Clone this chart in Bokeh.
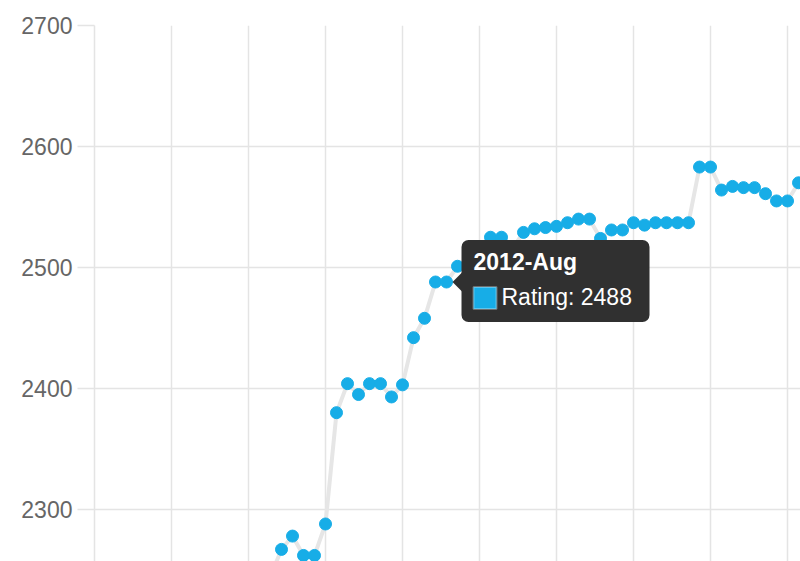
from bokeh.plotting import figure
from bokeh.models import FixedTicker, BoxAnnotation, PolyAnnotation, Label, Range1d, ColumnDataSource
from bokeh.embed import file_html
from bokeh.resources import INLINE

# ---- data ----
months = ["2011-Apr", "2011-May", "2011-Jun", "2011-Jul", "2011-Aug", "2011-Sep", "2011-Oct",
          "2011-Nov", "2011-Dec", "2012-Jan", "2012-Feb", "2012-Mar", "2012-Apr", "2012-May",
          "2012-Jun", "2012-Jul", "2012-Aug", "2012-Sep", "2012-Oct", "2012-Nov", "2012-Dec",
          "2013-Jan", "2013-Feb", "2013-Mar", "2013-Apr", "2013-May", "2013-Jun", "2013-Jul",
          "2013-Aug", "2013-Sep", "2013-Oct", "2013-Nov", "2013-Dec", "2014-Jan", "2014-Feb",
          "2014-Mar", "2014-Apr", "2014-May", "2014-Jun", "2014-Jul", "2014-Aug", "2014-Sep",
          "2014-Oct", "2014-Nov", "2014-Dec", "2015-Jan", "2015-Feb", "2015-Mar", "2015-Apr"]
ratings = [2245, 2267, 2278, 2262, 2262, 2288, 2380,
           2404, 2395, 2404, 2404, 2393, 2403, 2442,
           2458, 2488, 2488, 2501, 2508, 2512, 2525,
           2525, 2516, 2529, 2532, 2533, 2534, 2537,
           2540, 2540, 2524, 2531, 2531, 2537, 2535,
           2537, 2537, 2537, 2537, 2583, 2583, 2564,
           2567, 2566, 2566, 2561, 2555, 2555, 2570]
y_ticks = [2300, 2400, 2500, 2600, 2700]
x_grid_ticks = [-16, -9, -2, 5, 12, 19, 26, 33, 40, 47]
series_name = "Rating"
focus_month = "2012-Aug"

idx = list(range(len(months)))
src = ColumnDataSource(dict(x=idx, y=ratings, m=months))

X0, X1 = -16.0, 48.18
Y0, Y1 = 2257.0, 2700.0
W, H = 800, 561
ML, MT = 94, 25
FW, FH = W - ML, H - MT

BLUE = "#17ade7"
GRID = "#e4e4e4"

p = figure(width=W, height=H, output_backend="svg", toolbar_location=None,
           x_range=Range1d(X0, X1), y_range=Range1d(Y0, Y1),
           min_border_left=ML, min_border_right=0, min_border_top=MT, min_border_bottom=0)
p.outline_line_color = None
p.background_fill_color = "white"
p.border_fill_color = "white"

p.xaxis.visible = False
p.xgrid.ticker = FixedTicker(ticks=x_grid_ticks)
p.xgrid.grid_line_color = GRID
p.xgrid.grid_line_width = 1.5

p.yaxis.ticker = FixedTicker(ticks=y_ticks)
p.ygrid.ticker = FixedTicker(ticks=y_ticks)
p.ygrid.grid_line_color = GRID
p.ygrid.grid_line_width = 1.5
p.yaxis.axis_line_color = GRID
p.yaxis.axis_line_width = 1.5
p.yaxis.major_tick_line_color = GRID
p.yaxis.major_tick_line_width = 1.5
p.yaxis.major_tick_out = 17
p.yaxis.major_tick_in = 0
p.yaxis.minor_tick_line_color = None
p.yaxis.major_label_standoff = 5
p.yaxis.major_label_text_font = "Liberation Sans"
p.yaxis.major_label_text_font_size = "23px"
p.yaxis.major_label_text_color = "#666666"

p.line("x", "y", source=src, line_color="#e6e6e6", line_width=4)
p.scatter("x", "y", source=src, size=12, fill_color=BLUE, line_color=BLUE)

# ---- tooltip anchored to the focused point ----
fi = months.index(focus_month)
ax, ay = idx[fi], ratings[fi]


def dx(px):
    return px * (X1 - X0) / FW


def dy(px):  # screen pixels downward -> data offset
    return -px * (Y1 - Y0) / FH


TIP = "#303030"
p.add_layout(BoxAnnotation(left=ax + dx(15), right=ax + dx(203), top=ay + dy(-42), bottom=ay + dy(40),
                           fill_color=TIP, fill_alpha=1.0, line_color=None, border_radius=7))
p.add_layout(PolyAnnotation(xs=[ax + dx(6), ax + dx(16), ax + dx(16)],
                            ys=[ay, ay + dy(-10), ay + dy(10)],
                            fill_color=TIP, fill_alpha=1.0, line_color=None))
p.add_layout(BoxAnnotation(left=ax + dx(27), right=ax + dx(50), top=ay + dy(5), bottom=ay + dy(27),
                           fill_color=BLUE, fill_alpha=1.0, line_color="white", line_width=2))
p.add_layout(Label(x=ax + dx(27), y=ay + dy(-20), text=months[fi], text_font="Liberation Sans",
                   text_font_style="bold", text_font_size="23px", text_color="white",
                   text_baseline="alphabetic", text_align="left"))
p.add_layout(Label(x=ax + dx(55), y=ay + dy(14.5), text=f"{series_name}: {ratings[fi]}",
                   text_font="Liberation Sans", text_font_size="23px", text_color="white",
                   text_baseline="alphabetic", text_align="left"))

open("out.html", "w").write(file_html(p, INLINE))
